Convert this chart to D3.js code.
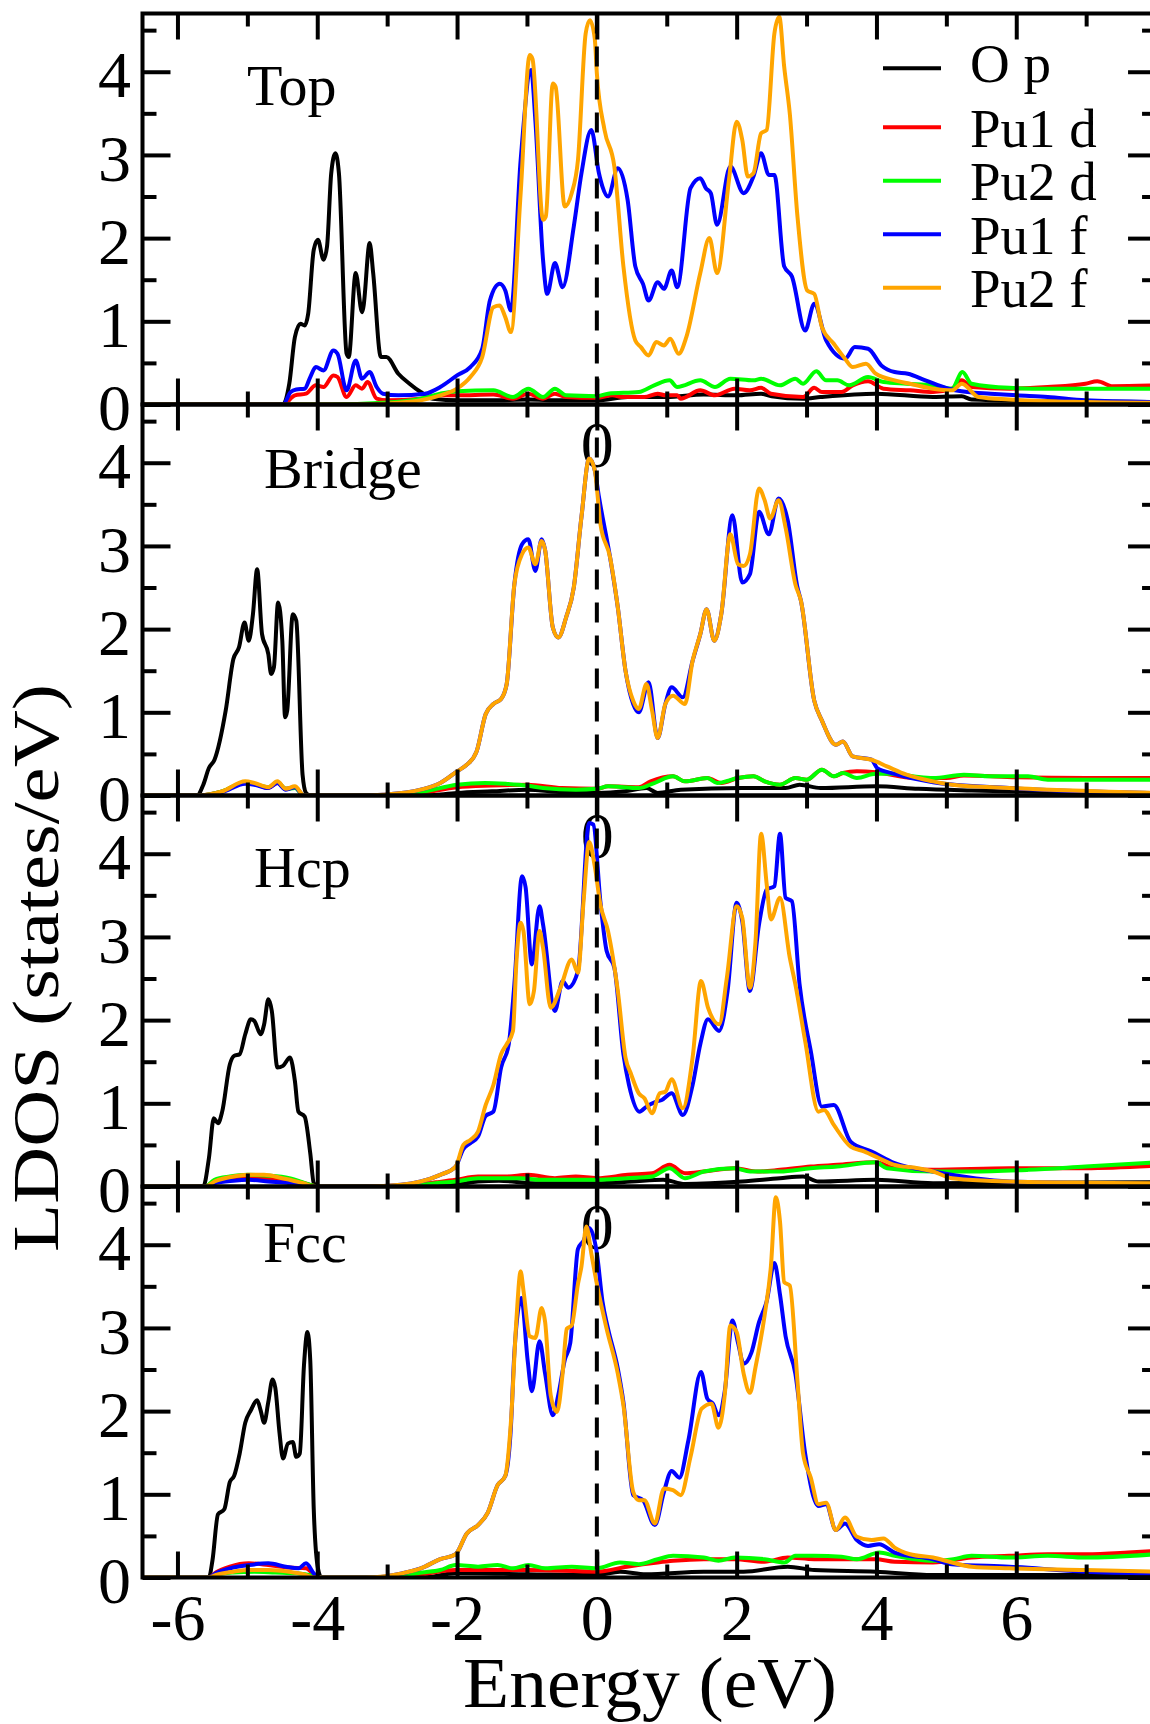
<!DOCTYPE html>
<html>
<head>
<meta charset="utf-8">
<script src="https://cdn.jsdelivr.net/npm/d3@7"></script>
<style>
  body { margin: 0; background: #fff; }
  svg { display: block; }
</style>
</head>
<body>
<div id="chart"></div>
<script>
// values: [energy (eV), LDOS (states/eV)]
const panelNames = ["Top", "Bridge", "Hcp", "Fcc"];
const seriesNames = ["O p", "Pu1 d", "Pu2 d", "Pu1 f", "Pu2 f"];
const seriesColours = ["#000000", "#ff0000", "#00ff00", "#0000ff", "#ffa500"];
const xMajorTicks = [-6, -4, -2, 0, 2, 4, 6];
const xMinorTicks = [-5, -3, -1, 1, 3, 5, 7];
const yMajorTicks = [0, 1, 2, 3, 4];
const yMinorTicks = [0.5, 1.5, 2.5, 3.5, 4.5];

const topOp = [[-6.5,0],[-4.49,0],[-4.40,0.25],[-4.32,0.81],[-4.24,0.97],[-4.18,0.95],[-4.13,1.09],[-4.05,1.86],[-3.99,1.98],[-3.91,1.74],[-3.86,1.90],[-3.80,2.78],[-3.74,3.02],[-3.69,2.78],[-3.58,0.61],[-3.55,0.57],[-3.45,1.58],[-3.36,1.11],[-3.34,1.17],[-3.25,1.94],[-3.20,1.58],[-3.09,0.57],[-3.01,0.57],[-2.84,0.37],[-2.68,0.25],[-2.52,0.15],[-2.35,0.07],[-1.97,0.05],[-1.5,0.05],[-1.0,0.06],[-0.5,0.05],[0,0.05],[0.44,0.09],[1.0,0.09],[1.53,0.12],[2.0,0.11],[2.35,0.13],[2.5,0.10],[2.95,0.07],[3.2,0.09],[3.99,0.13],[4.81,0.09],[5.22,0.10],[5.36,0.06],[6.5,0.04],[8,0.03]];
const topPu1d = [[-6.5,0],[-4.49,0],[-4.32,0.11],[-4.16,0.13],[-4.02,0.23],[-3.91,0.21],[-3.77,0.35],[-3.71,0.33],[-3.58,0.09],[-3.45,0.23],[-3.36,0.19],[-3.28,0.27],[-3.15,0.07],[-3.0,0.05],[-2.52,0.07],[-2.24,0.11],[-2.0,0.11],[-1.48,0.12],[-1.20,0.07],[-0.98,0.13],[-0.77,0.07],[-0.60,0.13],[-0.44,0.09],[0,0.08],[0.22,0.11],[0.38,0.09],[0.68,0.09],[0.87,0.13],[0.98,0.11],[1.15,0.11],[1.2,0.07],[1.48,0.17],[1.69,0.11],[1.97,0.19],[2.19,0.17],[2.35,0.20],[2.49,0.13],[2.95,0.09],[3.11,0.20],[3.22,0.15],[3.50,0.15],[3.66,0.23],[3.88,0.28],[4.10,0.19],[4.48,0.17],[4.81,0.15],[5.08,0.19],[5.22,0.29],[5.36,0.21],[5.90,0.19],[6.45,0.21],[6.99,0.25],[7.16,0.28],[7.38,0.22],[8,0.23]];
const topPu2d = [[-6.5,0],[-3.8,0],[-3.06,0.02],[-2.52,0.07],[-2.24,0.13],[-2.0,0.16],[-1.48,0.17],[-1.20,0.09],[-0.98,0.19],[-0.77,0.09],[-0.60,0.19],[-0.44,0.11],[0,0.10],[0.16,0.13],[0.60,0.15],[0.82,0.23],[1.04,0.29],[1.15,0.21],[1.48,0.29],[1.69,0.21],[1.91,0.31],[2.24,0.29],[2.35,0.31],[2.62,0.23],[2.84,0.31],[2.95,0.25],[3.14,0.40],[3.28,0.29],[3.44,0.29],[3.61,0.23],[3.88,0.33],[4.10,0.27],[4.43,0.25],[4.81,0.23],[5.08,0.19],[5.23,0.39],[5.36,0.25],[5.90,0.20],[6.45,0.19],[8,0.19]];
const topPu1f = [[-6.5,0],[-4.49,0],[-4.38,0.15],[-4.30,0.18],[-4.18,0.19],[-4.10,0.33],[-4.02,0.45],[-3.91,0.41],[-3.77,0.65],[-3.71,0.61],[-3.58,0.17],[-3.45,0.53],[-3.36,0.31],[-3.25,0.39],[-3.15,0.21],[-3.06,0.13],[-2.84,0.11],[-2.46,0.13],[-2.24,0.21],[-2.0,0.35],[-1.81,0.45],[-1.64,0.67],[-1.53,1.25],[-1.39,1.45],[-1.31,1.37],[-1.23,1.13],[-1.09,2.94],[-0.94,4.02],[-0.88,3.42],[-0.77,1.74],[-0.71,1.33],[-0.60,1.70],[-0.49,1.41],[-0.33,2.14],[-0.22,2.78],[-0.08,3.30],[0.03,2.78],[0.08,2.62],[0.16,2.50],[0.30,2.84],[0.44,2.46],[0.55,1.66],[0.66,1.45],[0.74,1.25],[0.87,1.47],[0.96,1.39],[1.07,1.61],[1.15,1.41],[1.34,2.60],[1.48,2.72],[1.56,2.60],[1.63,2.54],[1.72,2.16],[1.91,2.86],[2.10,2.54],[2.24,2.74],[2.35,3.02],[2.46,2.76],[2.54,2.76],[2.68,1.66],[2.79,1.54],[2.98,0.89],[3.11,1.21],[3.28,0.77],[3.55,0.55],[3.69,0.69],[3.88,0.67],[4.07,0.47],[4.26,0.39],[4.45,0.37],[4.70,0.29],[5.03,0.19],[5.30,0.15],[5.63,0.13],[6.01,0.11],[6.45,0.09],[6.99,0.05],[8,0.03]];
const topPu2f = [[-6.5,0],[-3.5,0],[-3.06,0.01],[-2.52,0.05],[-2.24,0.11],[-2.0,0.19],[-1.81,0.33],[-1.64,0.57],[-1.48,1.17],[-1.39,1.19],[-1.31,1.05],[-1.23,0.87],[-1.09,2.54],[-0.96,4.20],[-0.92,4.15],[-0.77,2.22],[-0.73,2.26],[-0.63,3.86],[-0.59,3.82],[-0.46,2.38],[-0.36,2.54],[-0.27,2.94],[-0.16,4.46],[-0.10,4.62],[-0.03,4.40],[0.0,3.98],[0.11,3.30],[0.25,2.86],[0.38,1.66],[0.55,0.77],[0.63,0.69],[0.74,0.59],[0.85,0.75],[0.96,0.71],[1.05,0.79],[1.17,0.61],[1.28,0.81],[1.48,1.58],[1.61,2.0],[1.72,1.58],[1.89,2.70],[2.0,3.40],[2.08,3.18],[2.16,2.74],[2.24,2.78],[2.35,3.26],[2.43,3.30],[2.54,4.46],[2.61,4.66],[2.68,4.06],[2.76,3.50],[2.87,2.26],[3.01,1.37],[3.11,1.33],[3.22,0.93],[3.39,0.73],[3.55,0.55],[3.66,0.45],[3.85,0.49],[3.99,0.37],[4.26,0.29],[4.48,0.25],[4.81,0.19],[5.08,0.17],[5.22,0.25],[5.46,0.09],[5.90,0.06],[7,0.03],[8,0.02]];

const bridgeOp = [[-6.5,0],[-5.72,0],[-5.63,0.13],[-5.55,0.33],[-5.47,0.43],[-5.31,1.02],[-5.20,1.64],[-5.12,1.78],[-5.04,2.08],[-4.98,1.86],[-4.92,2.18],[-4.86,2.72],[-4.79,1.94],[-4.70,1.70],[-4.66,1.46],[-4.62,1.54],[-4.56,2.32],[-4.50,1.86],[-4.46,0.94],[-4.43,1.02],[-4.35,2.18],[-4.30,2.10],[-4.21,0.25],[-4.16,0.03],[-4.10,0],[-2.5,0],[-2.0,0.03],[-1.5,0.05],[-1.0,0.07],[-0.5,0.04],[0,0.03],[0.4,0.05],[0.71,0.09],[0.87,0.03],[1.2,0.07],[2.08,0.09],[2.7,0.09],[2.90,0.13],[3.2,0.09],[3.99,0.11],[4.6,0.08],[5.36,0.06],[8,0.03]];
const bridgePu1d = [[-6.5,0],[-5.7,0],[-5.36,0.05],[-5.03,0.15],[-4.9,0.14],[-4.7,0.09],[-4.57,0.15],[-4.45,0.08],[-4.32,0.10],[-4.19,0],[-3.0,0],[-2.52,0.03],[-2.0,0.10],[-1.5,0.12],[-1.0,0.13],[-0.5,0.09],[0,0.08],[0.16,0.11],[0.60,0.10],[0.77,0.17],[1.09,0.23],[1.26,0.17],[1.58,0.21],[1.78,0.15],[2.02,0.21],[2.24,0.23],[2.40,0.17],[2.62,0.13],[2.84,0.21],[3.0,0.19],[3.22,0.31],[3.39,0.23],[3.52,0.27],[3.72,0.29],[3.99,0.28],[4.54,0.21],[5.0,0.21],[5.25,0.24],[6.0,0.22],[7.0,0.21],[8,0.21]];
const bridgePu2d = [[-6.5,0],[-5.7,0],[-5.36,0.05],[-5.03,0.16],[-4.9,0.14],[-4.7,0.10],[-4.57,0.16],[-4.45,0.08],[-4.32,0.09],[-4.19,0],[-3.0,0],[-2.52,0.04],[-2.0,0.13],[-1.6,0.15],[-1.3,0.14],[-1.0,0.12],[-0.77,0.09],[-0.3,0.07],[0,0.08],[0.16,0.11],[0.60,0.09],[0.82,0.15],[1.09,0.23],[1.26,0.17],[1.58,0.21],[1.72,0.15],[2.02,0.21],[2.24,0.23],[2.40,0.17],[2.62,0.13],[2.84,0.21],[3.0,0.19],[3.22,0.31],[3.39,0.23],[3.52,0.27],[3.72,0.21],[3.99,0.26],[4.26,0.26],[4.54,0.23],[4.81,0.21],[5.25,0.25],[5.63,0.23],[6.17,0.23],[6.45,0.19],[8,0.19]];
const bridgePu1f = [[-6.5,0],[-5.72,0],[-5.36,0.04],[-5.03,0.14],[-4.9,0.13],[-4.7,0.09],[-4.57,0.15],[-4.45,0.07],[-4.32,0.10],[-4.19,0],[-3.3,0],[-3.06,0.01],[-2.52,0.07],[-2.24,0.15],[-2.0,0.29],[-1.86,0.37],[-1.72,0.53],[-1.59,0.98],[-1.48,1.10],[-1.37,1.16],[-1.29,1.34],[-1.18,2.54],[-1.07,3.02],[-0.98,3.08],[-0.88,2.70],[-0.79,3.08],[-0.74,2.95],[-0.63,2.02],[-0.55,1.90],[-0.44,2.14],[-0.33,2.50],[-0.22,3.35],[-0.11,4.05],[-0.03,3.91],[0.03,3.59],[0.19,2.86],[0.30,2.26],[0.41,1.50],[0.52,1.10],[0.60,1.00],[0.74,1.36],[0.87,0.69],[0.98,1.10],[1.07,1.30],[1.23,1.18],[1.37,1.62],[1.48,1.94],[1.57,2.24],[1.68,1.86],[1.78,2.18],[1.94,3.37],[2.08,2.56],[2.19,2.66],[2.32,3.41],[2.46,3.14],[2.60,3.57],[2.73,3.31],[2.87,2.50],[2.92,2.34],[3.11,1.14],[3.22,0.90],[3.42,0.61],[3.52,0.65],[3.66,0.47],[3.93,0.43],[4.01,0.33],[4.26,0.26],[4.81,0.16],[5.90,0.09],[8,0.03]];
const bridgePu2f = [[-6.5,0],[-5.72,0],[-5.36,0.05],[-5.03,0.17],[-4.9,0.15],[-4.7,0.10],[-4.57,0.17],[-4.45,0.08],[-4.32,0.11],[-4.19,0],[-3.3,0],[-3.06,0.01],[-2.52,0.07],[-2.24,0.15],[-2.0,0.29],[-1.86,0.37],[-1.72,0.53],[-1.59,0.98],[-1.48,1.10],[-1.37,1.16],[-1.29,1.34],[-1.18,2.54],[-1.07,2.90],[-0.98,2.98],[-0.88,2.78],[-0.79,3.06],[-0.74,2.95],[-0.63,2.02],[-0.55,1.90],[-0.44,2.14],[-0.33,2.50],[-0.22,3.35],[-0.11,4.05],[-0.03,3.91],[0.05,3.27],[0.19,2.86],[0.30,2.26],[0.41,1.50],[0.52,1.14],[0.60,1.04],[0.71,1.34],[0.79,1.02],[0.87,0.69],[0.98,1.10],[1.09,1.20],[1.26,1.10],[1.37,1.62],[1.48,1.94],[1.57,2.24],[1.68,1.86],[1.78,2.18],[1.91,3.14],[2.02,2.78],[2.10,2.76],[2.19,2.90],[2.32,3.69],[2.40,3.55],[2.48,3.33],[2.60,3.55],[2.70,3.22],[2.84,2.54],[2.92,2.34],[3.11,1.14],[3.22,0.90],[3.42,0.61],[3.52,0.65],[3.66,0.47],[3.93,0.43],[4.15,0.35],[4.43,0.25],[4.81,0.17],[5.08,0.13],[5.90,0.09],[8,0.03]];

const hcpOp = [[-6.5,0],[-5.63,0],[-5.55,0.34],[-5.48,0.82],[-5.42,0.76],[-5.36,0.90],[-5.25,1.47],[-5.19,1.57],[-5.11,1.59],[-5.03,1.83],[-4.95,2.01],[-4.90,1.99],[-4.81,1.83],[-4.76,1.95],[-4.70,2.25],[-4.65,2.11],[-4.57,1.43],[-4.49,1.45],[-4.39,1.55],[-4.32,1.27],[-4.27,0.90],[-4.18,0.84],[-4.10,0.40],[-4.05,0.04],[-3.99,0],[-2.5,0],[-2.02,0.02],[-1.7,0.06],[-1.4,0.07],[-0.9,0.04],[0,0.04],[0.5,0.06],[0.95,0.08],[1.26,0.03],[2.08,0.06],[2.62,0.10],[2.95,0.12],[3.17,0.06],[3.99,0.08],[4.81,0.04],[8,0.05]];
const hcpPu1d = [[-6.5,0],[-5.6,0],[-5.47,0.06],[-5.25,0.09],[-5.0,0.11],[-4.7,0.10],[-4.4,0.08],[-4.1,0.02],[-4.0,0],[-2.8,0],[-2.3,0.05],[-2.02,0.08],[-1.70,0.12],[-1.3,0.12],[-0.98,0.14],[-0.60,0.10],[-0.3,0.12],[0,0.10],[0.44,0.14],[0.79,0.16],[1.04,0.26],[1.26,0.16],[1.53,0.18],[1.97,0.22],[2.30,0.18],[2.62,0.20],[3.06,0.24],[3.44,0.26],[3.99,0.29],[4.26,0.22],[4.81,0.20],[5.90,0.22],[6.99,0.22],[8,0.25]];
const hcpPu2d = [[-6.5,0],[-5.6,0],[-5.47,0.08],[-5.25,0.12],[-5.0,0.14],[-4.7,0.13],[-4.4,0.10],[-4.1,0.02],[-4.0,0],[-2.8,0],[-2.3,0.04],[-2.02,0.06],[-1.70,0.10],[-1.09,0.10],[-0.82,0.08],[0,0.08],[0.44,0.10],[0.79,0.12],[1.04,0.22],[1.26,0.10],[1.53,0.18],[1.97,0.22],[2.19,0.18],[2.62,0.18],[3.06,0.22],[3.44,0.24],[3.99,0.29],[4.15,0.22],[4.81,0.18],[5.36,0.18],[6.17,0.20],[6.99,0.24],[8,0.29]];
const hcpPu1f = [[-6.5,0],[-5.6,0],[-5.47,0.04],[-5.2,0.07],[-4.98,0.08],[-4.7,0.06],[-4.4,0.04],[-4.05,0],[-3.3,0],[-2.8,0.02],[-2.52,0.06],[-2.24,0.14],[-2.02,0.24],[-1.91,0.45],[-1.81,0.52],[-1.70,0.60],[-1.59,0.85],[-1.48,0.90],[-1.37,1.43],[-1.26,1.71],[-1.18,2.43],[-1.07,3.73],[-1.02,3.60],[-0.93,2.67],[-0.82,3.37],[-0.77,3.15],[-0.60,2.11],[-0.49,2.47],[-0.41,2.39],[-0.27,2.59],[-0.11,4.37],[-0.05,4.35],[0.05,3.43],[0.14,2.83],[0.25,2.63],[0.38,1.59],[0.46,1.22],[0.61,0.90],[0.71,0.96],[0.85,1.02],[0.93,1.04],[1.07,1.12],[1.23,0.86],[1.37,1.22],[1.48,1.71],[1.59,2.01],[1.75,1.87],[1.87,2.35],[2.0,3.41],[2.08,3.19],[2.19,2.35],[2.32,3.15],[2.43,3.57],[2.54,3.61],[2.62,4.24],[2.70,3.47],[2.79,3.43],[2.90,2.43],[3.06,1.63],[3.22,0.96],[3.39,0.98],[3.63,0.54],[3.93,0.42],[4.26,0.28],[4.81,0.18],[5.90,0.06],[8,0.03]];
const hcpPu2f = [[-6.5,0],[-5.6,0],[-5.47,0.06],[-5.2,0.12],[-4.98,0.14],[-4.76,0.14],[-4.5,0.10],[-4.2,0.04],[-4.05,0],[-3.3,0],[-2.8,0.02],[-2.52,0.06],[-2.24,0.14],[-2.02,0.24],[-1.91,0.50],[-1.81,0.56],[-1.70,0.66],[-1.59,0.98],[-1.48,1.22],[-1.37,1.59],[-1.29,1.71],[-1.20,1.87],[-1.15,2.71],[-1.09,3.17],[-1.05,3.07],[-0.96,2.19],[-0.90,2.35],[-0.82,3.07],[-0.77,2.87],[-0.66,2.15],[-0.52,2.39],[-0.36,2.73],[-0.27,2.57],[-0.19,3.43],[-0.11,4.14],[-0.03,3.85],[0.05,3.39],[0.16,3.07],[0.30,2.35],[0.41,1.55],[0.49,1.35],[0.60,1.12],[0.68,1.06],[0.79,0.88],[0.90,1.12],[0.98,1.14],[1.07,1.29],[1.23,0.94],[1.37,1.55],[1.49,2.47],[1.59,2.15],[1.75,1.95],[1.86,2.51],[2.0,3.37],[2.08,3.23],[2.19,2.39],[2.27,2.95],[2.35,4.24],[2.43,3.63],[2.49,3.21],[2.62,3.47],[2.76,2.75],[2.84,2.43],[2.98,1.75],[3.17,0.90],[3.25,0.92],[3.39,0.74],[3.63,0.48],[3.83,0.42],[4.04,0.34],[4.26,0.26],[4.59,0.22],[4.81,0.18],[5.08,0.10],[5.90,0.06],[8,0.04]];

const fccOp = [[-6.5,0],[-5.55,0],[-5.50,0.20],[-5.42,0.76],[-5.33,0.82],[-5.25,1.15],[-5.19,1.22],[-5.11,1.49],[-5.03,1.86],[-4.95,2.01],[-4.86,2.13],[-4.81,2.01],[-4.76,1.86],[-4.70,2.11],[-4.64,2.38],[-4.60,2.28],[-4.54,1.74],[-4.49,1.43],[-4.42,1.61],[-4.35,1.63],[-4.30,1.45],[-4.25,1.49],[-4.19,2.55],[-4.14,2.95],[-4.10,2.61],[-4.05,0.82],[-3.99,0.11],[-3.94,0],[-2.5,0],[-2.02,0.05],[-1.0,0.04],[0,0.03],[0.33,0.07],[0.7,0.04],[1.53,0.07],[2.1,0.07],[2.73,0.13],[3.11,0.09],[3.99,0.07],[4.81,0.03],[8,0.03]];
const fccPu1d = [[-6.5,0],[-5.55,0],[-5.45,0.06],[-5.25,0.13],[-4.98,0.17],[-4.70,0.15],[-4.4,0.12],[-4.16,0.11],[-4.05,0.04],[-3.95,0],[-3.0,0],[-2.5,0.04],[-2.02,0.09],[-1.5,0.09],[-0.98,0.09],[0,0.07],[0.43,0.13],[0.87,0.18],[1.09,0.20],[1.53,0.22],[1.97,0.22],[2.4,0.19],[2.73,0.24],[3.11,0.22],[3.99,0.22],[4.26,0.19],[4.81,0.18],[5.36,0.24],[5.90,0.26],[6.45,0.28],[7.0,0.28],[7.6,0.30],[8,0.32]];
const fccPu2d = [[-6.5,0],[-5.55,0],[-5.45,0.03],[-5.2,0.06],[-4.9,0.07],[-4.6,0.06],[-4.3,0.05],[-4.05,0.02],[-3.95,0],[-3.0,0],[-2.5,0.06],[-2.24,0.09],[-2.02,0.15],[-1.70,0.13],[-1.42,0.15],[-1.20,0.11],[-0.98,0.15],[-0.74,0.11],[-0.36,0.13],[0,0.11],[0.33,0.18],[0.60,0.16],[0.87,0.22],[1.09,0.26],[1.53,0.24],[1.74,0.20],[1.97,0.24],[2.4,0.22],[2.68,0.18],[2.84,0.26],[3.11,0.26],[3.5,0.25],[3.72,0.22],[4.04,0.30],[4.26,0.26],[4.54,0.22],[4.81,0.20],[5.1,0.22],[5.36,0.26],[5.90,0.24],[6.45,0.26],[6.99,0.24],[8,0.28]];
const fccPu1f = [[-6.5,0],[-5.55,0],[-5.45,0.05],[-5.25,0.11],[-4.98,0.15],[-4.70,0.17],[-4.45,0.13],[-4.27,0.11],[-4.16,0.17],[-4.05,0.05],[-3.99,0],[-3.2,0],[-2.79,0.05],[-2.52,0.11],[-2.24,0.22],[-2.02,0.28],[-1.86,0.53],[-1.70,0.63],[-1.56,0.78],[-1.42,1.11],[-1.31,1.22],[-1.23,1.80],[-1.18,2.70],[-1.08,3.36],[-0.99,2.61],[-0.93,2.24],[-0.82,2.84],[-0.74,2.45],[-0.63,1.95],[-0.55,2.20],[-0.46,2.61],[-0.38,2.82],[-0.27,3.95],[-0.19,4.05],[-0.11,4.20],[0,3.90],[0.08,3.32],[0.16,2.99],[0.30,2.51],[0.38,2.11],[0.52,0.99],[0.66,0.93],[0.83,0.63],[0.96,1.03],[1.07,1.28],[1.18,1.20],[1.31,1.65],[1.49,2.47],[1.58,2.15],[1.66,2.09],[1.74,1.95],[1.83,2.24],[1.94,3.09],[2.02,2.82],[2.10,2.57],[2.21,2.70],[2.32,3.07],[2.43,3.32],[2.54,3.78],[2.62,3.40],[2.70,2.90],[2.84,2.45],[2.98,1.49],[3.17,0.86],[3.28,0.88],[3.42,0.57],[3.55,0.65],[3.72,0.45],[3.88,0.38],[4.04,0.40],[4.26,0.30],[4.81,0.22],[5.08,0.16],[5.90,0.13],[6.99,0.07],[8,0.05]];
const fccPu2f = [[-6.5,0],[-5.55,0],[-5.45,0.03],[-5.2,0.07],[-4.98,0.09],[-4.70,0.09],[-4.4,0.07],[-4.2,0.04],[-4.05,0],[-3.3,0],[-2.79,0.05],[-2.52,0.11],[-2.24,0.22],[-2.02,0.28],[-1.86,0.53],[-1.70,0.63],[-1.56,0.78],[-1.42,1.11],[-1.31,1.22],[-1.23,1.86],[-1.15,3.11],[-1.09,3.68],[-1.05,3.45],[-0.96,2.90],[-0.88,2.88],[-0.79,3.24],[-0.74,3.07],[-0.66,2.19],[-0.57,1.99],[-0.49,2.45],[-0.43,2.99],[-0.36,3.03],[-0.27,3.53],[-0.22,3.74],[-0.15,4.22],[-0.08,3.90],[0,3.53],[0.14,2.99],[0.30,2.45],[0.38,2.07],[0.52,1.03],[0.60,0.93],[0.68,0.93],[0.83,0.65],[0.96,1.07],[1.09,1.05],[1.20,0.99],[1.34,1.45],[1.50,2.03],[1.64,2.09],[1.74,1.80],[1.83,2.20],[1.91,3.03],[2.0,2.95],[2.10,2.45],[2.19,2.22],[2.27,2.53],[2.40,3.15],[2.49,3.74],[2.56,4.57],[2.62,4.28],[2.68,3.55],[2.76,3.51],[2.87,2.36],[2.95,1.49],[3.06,1.20],[3.17,0.88],[3.28,0.90],[3.42,0.57],[3.55,0.72],[3.72,0.49],[3.93,0.45],[4.10,0.47],[4.26,0.36],[4.48,0.28],[4.81,0.24],[5.08,0.18],[5.36,0.13],[5.90,0.11],[6.99,0.09],[8,0.07]];

const panels = [
  [topOp, topPu1d, topPu2d, topPu1f, topPu2f],
  [bridgeOp, bridgePu1d, bridgePu2d, bridgePu1f, bridgePu2f],
  [hcpOp, hcpPu1d, hcpPu2d, hcpPu1f, hcpPu2f],
  [fccOp, fccPu1d, fccPu2d, fccPu1f, fccPu2f]
];

// layout
const width = 1150,
  height = 1724,
  plotLeft = 142.5,
  plotTop = 13.5,
  pxPerEV = 69.9,
  panelHeight = 391,
  xDomain = [-6.5, 8],
  yDomain = [0, 4.7],
  tickFont = 66,
  serif = "Liberation Serif",
  panelLabelPos = [[247, 105], [264, 488.3], [254, 886.7], [263, 1261.7]];

const svg = d3
  .select("#chart")
  .append("svg")
  .attr("width", width)
  .attr("height", height)
  .attr("font-family", serif);

const xScale = d3
  .scaleLinear()
  .domain(xDomain)
  .range([plotLeft, plotLeft + (xDomain[1] - xDomain[0]) * pxPerEV]);

const plotRight = xScale.range()[1];

const styleTicks = (g, w) => {
  g.select(".domain").remove();
  g.selectAll("line").attr("stroke", "#000").attr("stroke-width", w);
};

const styleLabels = g => {
  g.select(".domain").remove();
  g.attr("font-family", serif)
    .attr("font-size", tickFont)
    .selectAll("text")
    .attr("fill", "#000");
};

const labelGroup = svg.append("g").attr("class", "labels");

panels.forEach((series, i) => {
  const top = plotTop + i * panelHeight;
  const yScale = d3
    .scaleLinear()
    .domain(yDomain)
    .range([top + panelHeight, top]);

  const panel = svg.append("g").attr("class", "panel");

  panel
    .append("clipPath")
    .attr("id", `clip${i}`)
    .append("rect")
    .attr("x", plotLeft)
    .attr("y", top)
    .attr("width", plotRight - plotLeft)
    .attr("height", panelHeight);

  const line = d3
    .line()
    .x(d => xScale(d[0]))
    .y(d => yScale(d[1]))
    .curve(d3.curveMonotoneX);

  panel
    .append("g")
    .attr("clip-path", `url(#clip${i})`)
    .selectAll("path")
    .data(series)
    .enter()
    .append("path")
    .attr("fill", "none")
    .attr("stroke", (d, j) => seriesColours[j])
    .attr("stroke-width", 4)
    .attr("stroke-linejoin", "round")
    .attr("d", line);

  // Fermi level
  panel
    .append("line")
    .attr("x1", xScale(0))
    .attr("x2", xScale(0))
    .attr("y1", yScale(yDomain[1]))
    .attr("y2", yScale(0))
    .attr("stroke", "#000")
    .attr("stroke-width", 4)
    .attr("stroke-dasharray", "20,13");

  // inward ticks on all four sides
  [[xMajorTicks, 26], [xMinorTicks, 13]].forEach(([vals, len]) => {
    panel
      .append("g")
      .attr("transform", `translate(0, ${yScale(0)})`)
      .call(d3.axisTop(xScale).tickValues(vals).tickSize(len).tickFormat(""))
      .call(styleTicks, 4);
    panel
      .append("g")
      .attr("transform", `translate(0, ${top})`)
      .call(d3.axisBottom(xScale).tickValues(vals).tickSize(len).tickFormat(""))
      .call(styleTicks, 4);
  });

  [[yMajorTicks, 28], [yMinorTicks, 14]].forEach(([vals, len]) => {
    panel
      .append("g")
      .attr("transform", `translate(${plotLeft}, 0)`)
      .call(d3.axisRight(yScale).tickValues(vals).tickSize(len).tickFormat(""))
      .call(styleTicks, 4);
    panel
      .append("g")
      .attr("transform", `translate(${plotRight}, 0)`)
      .call(d3.axisLeft(yScale).tickValues(vals).tickSize(len).tickFormat(""))
      .call(styleTicks, 4);
  });

  panel
    .append("rect")
    .attr("x", plotLeft)
    .attr("y", top)
    .attr("width", plotRight - plotLeft)
    .attr("height", panelHeight)
    .attr("fill", "none")
    .attr("stroke", "#000")
    .attr("stroke-width", 4);

  // tick labels (drawn later so they sit on top)
  labelGroup
    .append("g")
    .attr("transform", `translate(${plotLeft}, 0)`)
    .call(
      d3.axisLeft(yScale)
        .tickValues(yMajorTicks)
        .tickSize(0)
        .tickPadding(11.5)
        .tickFormat(d => String(d))
    )
    .call(styleLabels)
    .selectAll("text")
    .attr("dy", "0.38em");

  labelGroup
    .append("g")
    .attr("transform", `translate(0, ${yScale(0)})`)
    .call(
      d3.axisBottom(xScale)
        .tickValues(i === panels.length - 1 ? xMajorTicks : [0])
        .tickSize(0)
        .tickPadding(15.5)
        .tickFormat(d => String(d))
    )
    .call(styleLabels);

  labelGroup
    .append("text")
    .attr("x", panelLabelPos[i][0])
    .attr("y", panelLabelPos[i][1])
    .attr("font-size", 58)
    .text(panelNames[i]);
});

// legend in the first panel
const legend = svg
  .append("g")
  .attr("class", "legend")
  .selectAll("g")
  .data(seriesNames)
  .enter()
  .append("g")
  .attr("transform", (d, i) => `translate(0, ${i === 0 ? 68.3 : 73.8 + 53.5 * i})`);

legend
  .append("line")
  .attr("x1", 883)
  .attr("x2", 941)
  .attr("stroke", (d, i) => seriesColours[i])
  .attr("stroke-width", 4);

legend
  .append("text")
  .attr("x", 970)
  .attr("y", (d, i) => (i === 0 ? 14 : 19.4))
  .attr("font-size", 55)
  .text(d => d);

// axis titles
svg
  .append("text")
  .attr("transform", "translate(58, 968) rotate(-90)")
  .attr("text-anchor", "middle")
  .attr("font-size", 66)
  .attr("textLength", 568)
  .attr("lengthAdjust", "spacingAndGlyphs")
  .text("LDOS (states/eV)");

svg
  .append("text")
  .attr("x", 650)
  .attr("y", 1706.5)
  .attr("text-anchor", "middle")
  .attr("font-size", 71)
  .attr("textLength", 374)
  .attr("lengthAdjust", "spacingAndGlyphs")
  .text("Energy (eV)");
</script>
</body>
</html>
